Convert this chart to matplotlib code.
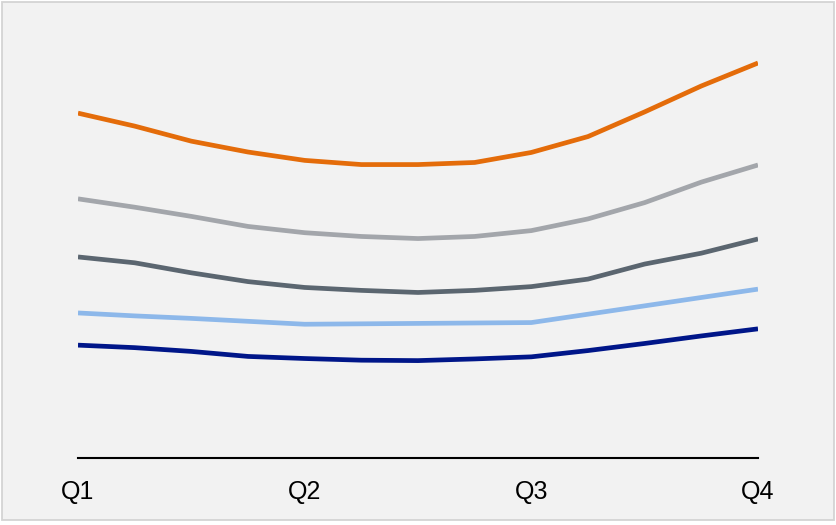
import matplotlib.pyplot as plt
from matplotlib.patches import Rectangle

# quarters, sampled at thirds of a quarter
quarters = ["Q1", "Q2", "Q3", "Q4"]
steps = list(range(13))

orange = [82.5, 79.4, 75.8, 73.2, 71.2, 70.2, 70.2, 70.7, 73.1, 76.9, 82.8, 89.0, 94.5]
grey = [62.0, 60.0, 57.8, 55.4, 53.9, 53.0, 52.5, 53.0, 54.4, 57.2, 61.1, 66.0, 70.1]
slate = [48.1, 46.7, 44.3, 42.2, 40.8, 40.1, 39.6, 40.1, 41.0, 42.8, 46.4, 49.0, 52.4]
light_blue = [34.7, 34.0, 33.4, 32.7, 32.0, 32.1, 32.2, 32.3, 32.4, 34.4, 36.4, 38.4, 40.4]
navy = [27.0, 26.4, 25.5, 24.3, 23.8, 23.4, 23.3, 23.7, 24.2, 25.7, 27.4, 29.2, 30.9]

series = [
    (orange, "#e46c0a"),
    (grey, "#a3a6ab"),
    (slate, "#5b6670"),
    (light_blue, "#8db8ea"),
    (navy, "#001689"),
]

plt.rcParams["font.family"] = ["Liberation Sans", "DejaVu Sans"]

fig = plt.figure(figsize=(8.37, 5.25), dpi=100)
fig.patch.set_facecolor("white")
# grey panel behind the chart
fig.patches.append(Rectangle((2 / 837, 5 / 525), 832 / 837, 518 / 525,
                             transform=fig.transFigure, facecolor="#f2f2f2",
                             edgecolor="#d4d4d4", linewidth=1.3, zorder=-1))

ax = fig.add_axes([78 / 837, 67 / 525, 680 / 837, 418 / 525])
ax.set_facecolor("none")

for values, color in series:
    ax.plot(steps, values, color=color, linewidth=3.4,
            solid_capstyle="butt", solid_joinstyle="round")

ax.set_xlim(0, 12)
ax.set_ylim(0, 100)
ax.set_xticks([0, 4, 8, 12])
ax.set_xticklabels(quarters, fontsize=18)
ax.set_yticks([])
ax.tick_params(axis="x", length=0, pad=15.5)

for side in ["top", "left", "right"]:
    ax.spines[side].set_visible(False)
ax.spines["bottom"].set_linewidth(1.5)
ax.spines["bottom"].set_color("black")

fig.savefig("out.png", dpi=100)
